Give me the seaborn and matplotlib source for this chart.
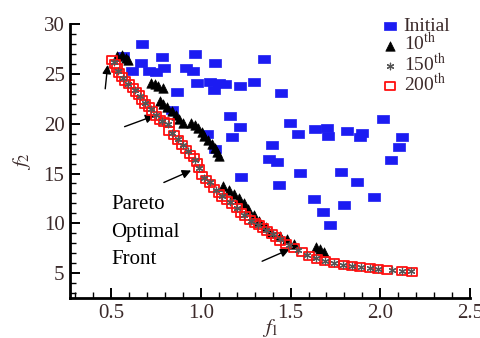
import matplotlib
matplotlib.use("Agg")
import matplotlib.pyplot as plt
from matplotlib.path import Path
from matplotlib.ticker import MultipleLocator
import seaborn as sns
import numpy as np

# ---------------- data ----------------
init_x = [0.669, 0.567, 0.667, 0.617, 0.709, 0.747, 0.793, 0.780, 0.864, 0.918,
          0.957, 0.969, 0.979, 1.049, 1.081, 1.075, 1.099, 1.136, 1.220, 1.294,
          1.350, 1.446, 1.164, 1.220, 1.174, 1.034, 0.840, 1.081, 1.494, 1.541,
          1.638, 1.702, 1.708, 1.814, 1.898, 1.888, 2.014, 2.120, 2.107, 2.061,
          1.396, 1.381, 1.423, 1.554, 1.782, 1.433, 1.873, 1.966, 1.628, 1.799,
          1.224, 1.680, 1.717]
init_y = [28.0, 26.8, 26.1, 25.3, 25.3, 25.2, 25.6, 26.7, 23.2, 25.6,
          25.3, 27.0, 24.1, 24.2, 26.1, 23.4, 24.1, 24.0, 23.8, 24.2,
          26.5, 23.1, 20.8, 19.7, 18.7, 19.0, 21.4, 17.5, 20.1, 19.0,
          19.5, 19.6, 18.8, 19.3, 19.1, 18.7, 20.5, 18.7, 17.7, 16.4,
          17.9, 16.5, 16.2, 15.1, 15.2, 13.8, 14.1, 12.6, 12.4, 11.8,
          14.7, 11.1, 9.8]

g10_x = [0.533, 0.557, 0.580, 0.591,
         0.719, 0.741, 0.763, 0.786,
         0.769, 0.791, 0.813, 0.836, 0.858, 0.880, 0.897,
         0.942, 0.964, 0.986, 1.003, 1.019, 1.042, 1.064, 1.081, 1.092, 1.103,
         1.125, 1.159, 1.187, 1.214, 1.242, 1.265, 1.293, 1.326, 1.360, 1.393,
         1.438, 1.482, 1.521,
         1.643, 1.666, 1.688]
g10_y = [26.8, 26.9, 26.6, 26.4,
         24.1, 24.0, 23.8, 23.6,
         22.3, 22.0, 21.7, 21.3, 20.9, 20.5, 20.1,
         20.1, 19.9, 19.6, 19.2, 18.8, 18.4, 18.0, 17.6, 17.2, 16.8,
         13.7, 13.3, 12.9, 12.5, 12.0, 11.4, 10.8, 10.2, 9.6, 9.1,
         8.7, 8.4, 7.9,
         7.6, 7.4, 7.1]

g150_x = [0.515, 0.540, 0.565, 0.595, 0.630, 0.660, 0.690, 0.720, 0.750, 0.785,
          0.815, 0.840, 0.870, 0.900, 0.930, 0.965, 0.990, 1.015, 1.050, 1.085,
          1.120, 1.160, 1.200, 1.240, 1.280, 1.320, 1.360, 1.400, 1.440, 1.490,
          1.540, 1.590, 1.640, 1.690, 1.740, 1.790, 1.840, 1.890, 1.940, 1.990,
          2.065, 2.120, 2.170]
g150_y = [26.2, 25.3, 24.6, 24.0, 23.4, 22.8, 22.1, 21.5, 20.9, 20.3,
          20.0, 19.1, 18.5, 17.9, 17.3, 16.4, 15.6, 14.6, 14.1, 13.3,
          12.7, 12.1, 11.5, 10.8, 10.2, 9.8, 9.3, 8.9, 8.4, 7.8,
          7.3, 6.8, 6.5, 6.2, 6.0, 5.8, 5.7, 5.6, 5.5, 5.4,
          5.3, 5.2, 5.2]

g200_x = [0.506, 0.520, 0.532, 0.545, 0.558, 0.575, 0.598, 0.620, 0.636, 0.654,
          0.672, 0.688, 0.708, 0.728, 0.748, 0.770, 0.793, 0.821, 0.822, 0.848,
          0.872, 0.895, 0.918, 0.940, 0.960, 0.978, 0.990, 1.007, 1.030, 1.052,
          1.074, 1.098, 1.120, 1.146, 1.172, 1.200, 1.222, 1.248, 1.276, 1.300,
          1.322, 1.345, 1.370, 1.396, 1.420, 1.443, 1.476, 1.517, 1.563, 1.600,
          1.647, 1.693, 1.740, 1.795, 1.842, 1.888, 1.944, 1.990, 2.037, 2.120,
          2.176]
g200_y = [26.4, 26.0, 25.6, 25.1, 24.7, 24.3, 24.0, 23.6, 23.2, 22.9,
          22.4, 22.0, 21.7, 21.3, 20.8, 20.4, 20.2, 20.1, 19.3, 18.9,
          18.4, 17.9, 17.4, 16.9, 16.6, 16.1, 15.5, 14.8, 14.4, 14.0,
          13.5, 13.0, 12.6, 12.3, 11.9, 11.5, 11.0, 10.7, 10.3, 10.0,
          9.8, 9.5, 9.2, 8.9, 8.6, 8.2, 7.9, 7.5, 7.1, 6.7,
          6.4, 6.2, 6.0, 5.8, 5.7, 5.6, 5.5, 5.4, 5.3, 5.2,
          5.1]

series_labels = ["Initial", "10$^{\\mathrm{th}}$", "150$^{\\mathrm{th}}$", "200$^{\\mathrm{th}}$"]
x_ticks = [0.5, 1.0, 1.5, 2.0, 2.5]
y_ticks = [5, 10, 15, 20, 25, 30]
front_text = "Pareto\nOptimal\nFront"

# arrows (tail -> head) pointing at the front
arrows = [((0.466, 23.5), (0.480, 25.9)),
          ((0.574, 19.7), (0.740, 20.8)),
          ((0.793, 14.1), (0.945, 15.3)),
          ((1.341, 6.2), (1.494, 7.4))]

# ---------------- style ----------------
sns.set_theme(style="white")
plt.rcParams["font.family"] = ["Liberation Serif", "DejaVu Serif"]
plt.rcParams["mathtext.fontset"] = "stix"

txt_col = "#3b2a2a"

rect = Path([(-1, -0.65), (1, -0.65), (1, 0.65), (-1, 0.65), (-1, -0.65)],
            [Path.MOVETO, Path.LINETO, Path.LINETO, Path.LINETO, Path.CLOSEPOLY])
rect2 = Path([(-1, -0.78), (1, -0.78), (1, 0.78), (-1, 0.78), (-1, -0.78)],
             [Path.MOVETO, Path.LINETO, Path.LINETO, Path.LINETO, Path.CLOSEPOLY])

fig = plt.figure(figsize=(4.8, 3.38), dpi=100)
ax = fig.add_axes([0.146, 0.118, 0.833, 0.811])

sns.scatterplot(x=init_x, y=init_y, ax=ax, marker=rect, s=72, color="#1c1cf2",
                edgecolor="#1c1cf2", linewidth=0.5, label=series_labels[0], zorder=2)
sns.scatterplot(x=g10_x, y=g10_y, ax=ax, marker="^", s=46, color="black",
                edgecolor="black", linewidth=0.5, label=series_labels[1], zorder=3)
sns.scatterplot(x=g200_x, y=g200_y, ax=ax, marker=rect2, s=52, color="#ff1010",
                edgecolor="#ff1010", linewidth=1.3, label=series_labels[3], zorder=4)
ax.collections[-1].set_facecolor("none")
sns.scatterplot(x=g150_x, y=g150_y, ax=ax, marker=(6, 2, 0), s=22, color="#555555",
                linewidth=0.9, label=series_labels[2], zorder=5)

for (tail, head) in arrows:
    ax.annotate("", xy=head, xytext=tail,
                arrowprops=dict(arrowstyle="-|>", color="black", lw=1.0,
                                mutation_scale=13, shrinkA=0, shrinkB=0))

ax.text(0.50, 12.85, front_text, fontsize=15, color="black", ha="left", va="top",
        linespacing=1.62)

ax.set_xlim(0.27, 2.5)
ax.set_ylim(2.5, 30)
ax.set_xticks(x_ticks)
ax.set_yticks(y_ticks)
ax.set_xticklabels([f"{v:.1f}" for v in x_ticks])
ax.set_yticklabels([str(v) for v in y_ticks])
ax.xaxis.set_minor_locator(MultipleLocator(0.1))
ax.yaxis.set_minor_locator(MultipleLocator(1))
ax.tick_params(which="major", direction="in", length=7, width=1.4, colors="black",
               labelsize=15, labelcolor=txt_col, pad=4,
               bottom=True, left=True, top=False, right=False)
ax.tick_params(which="minor", direction="in", length=4, width=1.0, colors="black",
               bottom=True, left=True, top=False, right=False)
for side in ["top", "right"]:
    ax.spines[side].set_visible(False)
for side in ["left", "bottom"]:
    ax.spines[side].set_linewidth(2.0)
    ax.spines[side].set_color("black")

ax.set_xlabel("$f_1$", fontsize=15, color=txt_col, labelpad=-4)
ax.set_ylabel("$f_2$", fontsize=15, color=txt_col, labelpad=8)

h, l = ax.get_legend_handles_labels()
hd = dict(zip(l, h))
leg = ax.legend([hd[s] for s in series_labels], series_labels, loc="upper right",
                bbox_to_anchor=(0.985, 1.075), frameon=False, fontsize=14,
                labelspacing=-0.1, handletextpad=0.3, handlelength=0.8,
                borderpad=0.2)
for t in leg.get_texts():
    t.set_color(txt_col)

fig.savefig("out.png", dpi=100, facecolor="white")
